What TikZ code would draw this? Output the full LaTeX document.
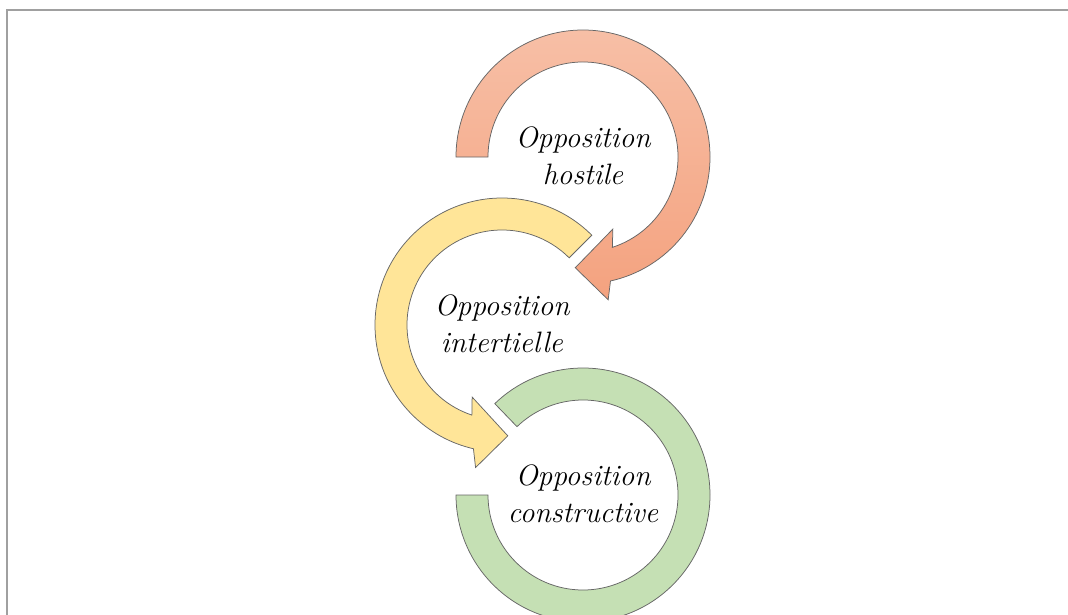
\documentclass[tikz,border=0pt]{standalone}
\usepackage{fontspec}
\definecolor{framecol}{HTML}{A0A0A0}
\definecolor{edgecol}{HTML}{666666}
\definecolor{salmontop}{HTML}{F7BFA6}
\definecolor{salmonbot}{HTML}{F4A27F}
\definecolor{yellowfill}{HTML}{FFE598}
\definecolor{greenfill}{HTML}{C5E0B4}
\begin{document}
\begin{tikzpicture}[x=1pt,y=1pt,
  band/.style={draw=edgecol, line width=0.75pt, line join=miter},
  label/.style={align=center, font=\fontsize{29.5}{37}\selectfont\itshape, inner sep=0pt}]
\useasboundingbox (0,0) rectangle (1068,-615);
\clip (0,0) rectangle (1068,-615);
\draw[framecol, line width=1.3pt] (7,-615) -- (7,-10) -- (1068,-10);

\coordinate (c1) at (583,-157);
\coordinate (c2) at (502,-325);
\coordinate (c3) at (583,-495);

% salmon arrow (clockwise)
\shade[band, top color=salmontop, bottom color=salmonbot]
  ([shift={(180:127)}]c1) arc[start angle=180, end angle=-77.5, radius=127]
  -- ([shift={(-80:145)}]c1) -- ([shift={(-94:111)}]c1)
  -- ([shift={(-67.5:78)}]c1) -- ([shift={(-72:95)}]c1)
  arc[start angle=-72, end angle=180, radius=95] -- cycle;

% yellow arrow (counter-clockwise)
\draw[band, fill=yellowfill]
  ([shift={(45:127)}]c2) arc[start angle=45, end angle=257, radius=127]
  -- ([shift={(259.5:145)}]c2) -- ([shift={(273:111)}]c2)
  -- ([shift={(247.5:78)}]c2) -- ([shift={(251.5:95)}]c2)
  arc[start angle=251.5, end angle=45, radius=95] -- cycle;

% green arc
\draw[band, fill=greenfill]
  ([shift={(134:127)}]c3) arc[start angle=134, end angle=-180, radius=127]
  -- ([shift={(180:95)}]c3)
  arc[start angle=-180, end angle=134, radius=95] -- cycle;

\node[label] (t1) at ([yshift=1]c1) {Opposition\\hostile};
\node[label] (t2) at ([yshift=1]c2) {Opposition\\intertielle};
\node[label] (t3) at ([yshift=1]c3) {Opposition\\constructive};
\end{tikzpicture}
\end{document}
